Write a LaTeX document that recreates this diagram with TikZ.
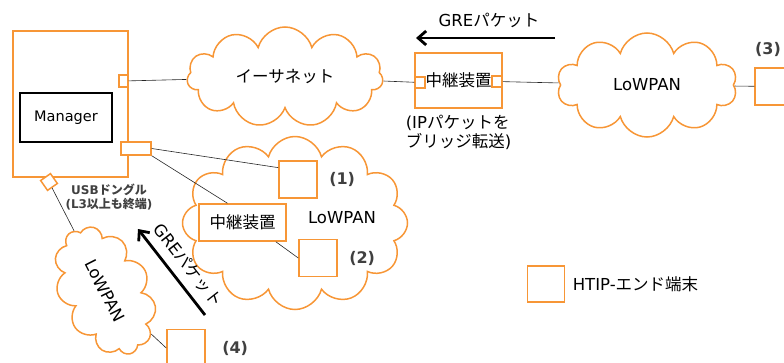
\documentclass[tikz,border=0pt]{standalone}
\usepackage{fontspec}
\setmainfont{DejaVu Sans}
\newfontfamily\jp{Noto Sans CJK JP}
\usetikzlibrary{arrows.meta}
\usetikzlibrary{shapes.symbols}
\usetikzlibrary{positioning}
\definecolor{htiporange}{RGB}{247,150,54}
\definecolor{taggray}{RGB}{64,64,64}

\begin{document}
\begin{tikzpicture}[x=1pt, y=-1pt,
    font=\fontsize{16.5}{19}\selectfont,
    object/.style={draw=htiporange, line width=1.5pt, fill=white, inner sep=0},
    terminal/.style={object, rectangle, minimum width=38pt, minimum height=37pt},
    port/.style={object, rectangle},
    relay/.style={object, rectangle, minimum width=87pt, font=\jp\fontsize{16.5}{19}\selectfont},
    network/.style={object, cloud, cloud ignores aspect, fill=none},
    tag/.style={text=taggray, font=\bfseries\fontsize{16}{19}\selectfont},
    link/.style={draw=black!85, line width=0.6pt},
    arrow/.style={line width=2.8pt, >={Straight Barb[length=8pt, width=14pt]}},
    post/.style={arrow, ->}
  ]
  \path[clip, use as bounding box] (0,0) rectangle (784,362);

  % manager host and its ports
  \node[object, rectangle, minimum width=115pt, minimum height=146pt] (host) at (70.5,104) {};
  \node[draw, line width=1.5pt, rectangle, minimum width=92pt, minimum height=49pt,
    font=\fontsize{14.5}{17}\selectfont] (manager) at (66,117.5) {Manager};
  \node[port, minimum width=9pt, minimum height=12pt] (ethport) at (123.5,81) {};
  \node[port, minimum width=30pt, minimum height=13pt] (panport) at (136,148.5) {};
  \node[port, minimum size=12pt, rotate=35] (usb) at (49,182) {};
  \node[tag, align=center, font=\bfseries\fontsize{12}{14.5}\selectfont] (usblabel) at (109,197)
    {USB{\jp ドングル}\\(L3{\jp 以上も終端})};

  % relay on the ethernet side
  \node[relay, minimum height=55pt] (relay1) at (458.5,80.5) {中継装置};
  \node[port, minimum width=10pt, minimum height=11pt] (relayin) at (420,82.5) {};
  \node[port, minimum width=10pt, minimum height=11pt] (relayout) at (497,81.5) {};
  \node[below=3pt of relay1, align=left] (bridge) {(IP{\jp パケットを}\\{\jp ブリッジ転送})};

  \node[terminal] (t3) at (774,86.5) {};
  \node[tag, above=7pt of t3, xshift=-6pt] {(3)};

  \node[network, cloud puffs=11, minimum width=196pt, minimum height=100pt] (ether) at (285,77)
    {\jp イーサネット}
    edge[link] (ethport)
    edge[link] (relayin);
  \node[network, cloud puffs=10, minimum width=180pt, minimum height=104pt] (lan1) at (647,85)
    {LoWPAN}
    edge[link] (relayout)
    edge[link] (t3);

  % LoWPAN behind the manager
  \node[network, cloud puffs=12, minimum width=225pt, minimum height=173pt] (lan2) at (295,223) {};
  \node (lan2text) at (342,218) {LoWPAN};
  \node[terminal] (t1) at (298,179.5) {};
  \node[tag, right=8pt of t1] {(1)};
  \node[terminal] (t2) at (318,258) {};
  \node[tag, right=8pt of t2] {(2)};
  \node[relay, minimum height=37pt] (relay2) at (242.5,222.5) {中継装置};
  \draw[link] (panport.east) -- (t1.149);
  \draw[link] (panport.south east) -- (relay2.128);
  \draw[link] (relay2.330) -- (t2.west);

  % LoWPAN on the USB dongle
  \node[terminal] (t4) at (186,348) {};
  \node[tag, right=13pt of t4] {(4)};
  \node[network, cloud puffs=11, minimum width=136pt, minimum height=90pt, rotate=-63] (lan4)
    at (105,291) {LoWPAN}
    edge[link] (usb)
    edge[link] (t4.west);

  % GRE packets
  \coordinate (greA) at (555,38);
  \coordinate (greB) at (416,38);
  \draw[post] (greA) -- (greB);
  \node (gre1) at (489,20) {GRE{\jp パケット}};
  \coordinate (greC) at (205,315);
  \coordinate (greD) at (138,229);
  \draw[post] (greC) -- (greD);
  \node[rotate=-52] (gre2) at (188,265) {GRE{\jp パケット}};

  % legend
  \node[terminal, minimum width=37pt, minimum height=36pt] (legend) at (546,284) {};
  \node[right=4pt of legend] {HTIP-{\jp エンド端末}};
\end{tikzpicture}
\end{document}
